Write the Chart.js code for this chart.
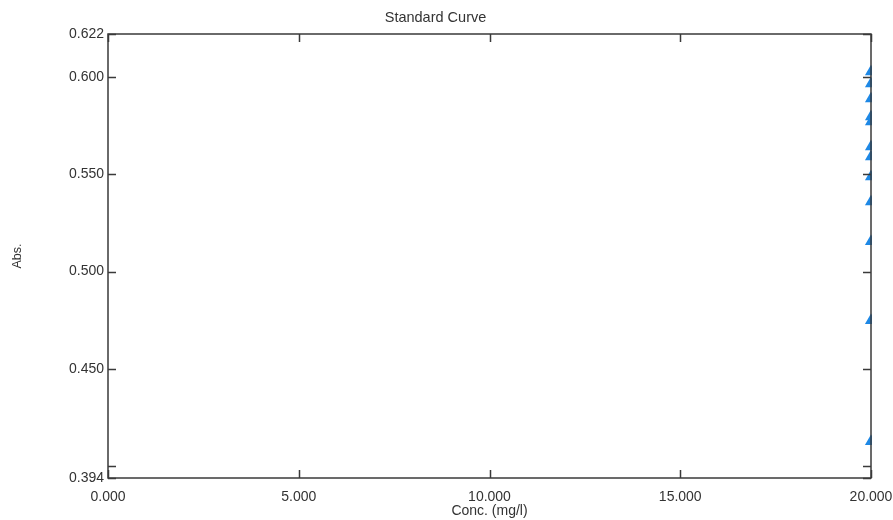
<!DOCTYPE html>
<html>
<head>
<meta charset="utf-8">
<script src="https://cdn.jsdelivr.net/npm/chart.js@4/dist/chart.umd.min.js"></script>
<style>
  html, body { margin: 0; padding: 0; background: #fff; }
  #wrap { width: 893px; height: 520px; }
</style>
</head>
<body>
<div id="wrap"><canvas id="chart" width="893" height="520"></canvas></div>
<script>
// standard curve readings (all at 20 mg/l as in the source picture)
const conc = [20, 20, 20, 20, 20, 20, 20, 20, 20, 20, 20, 20];
const abs = [0.6026, 0.5964, 0.5887, 0.5795, 0.5769, 0.5641, 0.5590, 0.5487, 0.5359, 0.5154, 0.4749, 0.4128];

const xTickValues = [0, 5, 10, 15, 20];
const xTickLabels = ['0.000', '5.000', '10.000', '15.000', '20.000'];
const yTickValues = [0.394, 0.400, 0.450, 0.500, 0.550, 0.600, 0.622];
const yTickLabels = ['0.394', '', '0.450', '0.500', '0.550', '0.600', '0.622'];

const axisColor = '#3a3a3a';
const textColor = '#333333';
const fontFamily = '"Liberation Sans", Arial, sans-serif';

// frame + inward tick marks on all four sides
const frameTicks = {
  id: 'frameTicks',
  afterDraw(chart) {
    const { ctx, chartArea: a, scales } = chart;
    const len = 8;
    ctx.save();
    ctx.strokeStyle = axisColor;
    ctx.lineWidth = 1.5;
    ctx.strokeRect(a.left, a.top, a.right - a.left, a.bottom - a.top);
    ctx.beginPath();
    yTickValues.forEach(v => {
      const y = Math.round(scales.y.getPixelForValue(v)) + 0.5;
      ctx.moveTo(a.left, y); ctx.lineTo(a.left + len, y);
      ctx.moveTo(a.right, y); ctx.lineTo(a.right - len, y);
    });
    xTickValues.forEach(v => {
      const x = Math.round(scales.x.getPixelForValue(v)) + 0.5;
      ctx.moveTo(x, a.bottom); ctx.lineTo(x, a.bottom - len);
      ctx.moveTo(x, a.top); ctx.lineTo(x, a.top + len);
    });
    ctx.stroke();
    ctx.restore();
  }
};

new Chart(document.getElementById('chart'), {
  type: 'scatter',
  data: {
    datasets: [{
      label: 'Standard',
      data: conc.map((c, i) => ({ x: c, y: abs[i] })),
      pointStyle: 'triangle',
      pointRadius: 7,
      pointBackgroundColor: '#1e88e5',
      pointBorderColor: '#1e88e5',
      pointBorderWidth: 0,
      clip: { left: false, top: false, right: 1, bottom: false }
    }]
  },
  options: {
    responsive: false,
    animation: false,
    layout: { padding: { left: 0, right: 22, top: 0, bottom: 0 } },
    plugins: {
      legend: { display: false },
      tooltip: { enabled: false },
      title: {
        display: true,
        text: 'Standard Curve',
        color: textColor,
        font: { family: fontFamily, size: 14.5, weight: 'normal' },
        padding: { top: 9, bottom: 7.6 }
      }
    },
    scales: {
      x: {
        type: 'linear',
        min: 0,
        max: 20,
        grid: { display: false, drawTicks: false },
        border: { display: false },
        afterBuildTicks: s => { s.ticks = xTickValues.map(v => ({ value: v })); },
        afterFit: s => { s.height = 42; s.paddingLeft = 0; s.paddingRight = 0; },
        ticks: {
          padding: 11,
          color: textColor,
          maxRotation: 0,
          font: { family: fontFamily, size: 14 },
          callback: (v, i) => xTickLabels[i]
        },
        title: {
          display: true,
          text: 'Conc. (mg/l)',
          color: textColor,
          font: { family: fontFamily, size: 14 },
          padding: { top: 0, bottom: 0.5 }
        }
      },
      y: {
        type: 'linear',
        min: 0.394,
        max: 0.622,
        grid: { display: false, drawTicks: false },
        border: { display: false },
        afterBuildTicks: s => { s.ticks = yTickValues.map(v => ({ value: v })); },
        afterFit: s => { s.width = 108; s.paddingTop = 0; s.paddingBottom = 0; },
        ticks: {
          padding: 4,
          color: textColor,
          autoSkip: false,
          font: { family: fontFamily, size: 14 },
          callback: (v, i) => yTickLabels[i]
        },
        title: {
          display: true,
          text: 'Abs.',
          color: textColor,
          font: { family: fontFamily, size: 12.5 },
          padding: { top: 10, bottom: 0 }
        }
      }
    }
  },
  plugins: [frameTicks]
});
</script>
</body>
</html>
